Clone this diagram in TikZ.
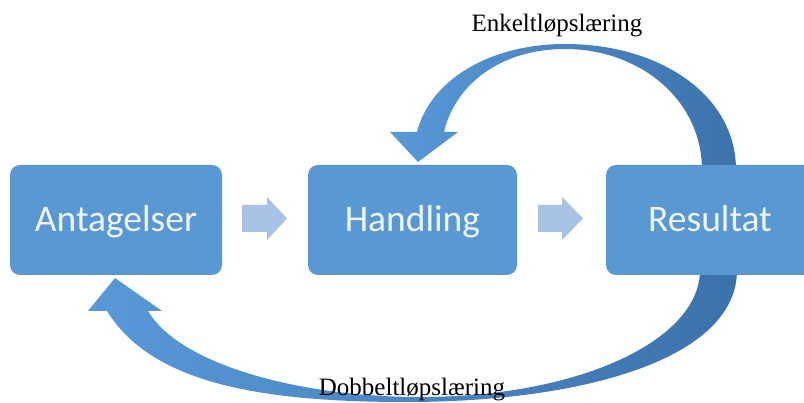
\documentclass[tikz,border=0pt]{standalone}
\usepackage{fontspec}
\setmainfont{Liberation Serif}
\newfontfamily\boxfont{Carlito}
\definecolor{boxblue}{RGB}{89,152,211}
\definecolor{boxtext}{RGB}{238,245,252}
\definecolor{stepblue}{RGB}{168,194,229}
\definecolor{looplight}{RGB}{88,153,216}
\definecolor{loopdark}{RGB}{60,114,172}
\begin{document}
\begin{tikzpicture}[x=1pt,y=-1pt,
  stage/.style={rectangle, rounded corners=10pt, fill=boxblue,
    minimum width=#1, minimum height=110pt, inner sep=0pt,
    text=boxtext, font=\boxfont\fontsize{37.5}{42}\selectfont,
    text height=24pt, text depth=0pt},
  steparrow/.style={fill=stepblue},
  loop/.style={left color=looplight, right color=loopdark},
  looplabel/.style={anchor=base, inner sep=0pt, text=black,
    font=\fontsize{25}{29}\selectfont}]
\useasboundingbox (0,0) rectangle (804,403);
\clip (0,0) rectangle (804,403);
\fill[white] (0,0) rectangle (804,403);

% single-loop arrow: from Resultat back over the top to Handling
\path[loop]
  (417,132) .. controls (430,80) and (490,44) .. (565,44)
  .. controls (660,44) and (736,95) .. (736,170)
  -- (702,170)
  .. controls (702,100) and (640,49) .. (565,49)
  .. controls (500,49) and (455,85) .. (444,132)
  -- (458,132) -- (418,162) -- (390,132) -- cycle;

% double-loop arrow: from Resultat round the bottom to Antagelser
\path[loop]
  (737,270) .. controls (737,360) and (580,402) .. (406,402)
  .. controls (250,402) and (150,380) .. (107,311)
  -- (88,311) -- (115,278) -- (162,311) -- (148,311)
  .. controls (180,365) and (300,397) .. (420,397)
  .. controls (580,397) and (700,340) .. (700,270) -- cycle;

% the three stages
\node[stage=212pt] (ant) at (116,220) {Antagelser};
\node[stage=209pt] (han) at (412.5,220) {Handling};
\node[stage=208pt] (res) at (710,220) {Resultat};

% block arrows between the stages
\fill[steparrow] (242,205) -- (267,205) -- (267,197) -- (287,218.5)
  -- (267,240) -- (267,232) -- (242,232) -- cycle;
\fill[steparrow] (538,205) -- (562,205) -- (562,197) -- (583,218.5)
  -- (562,240) -- (562,232) -- (538,232) -- cycle;

% loop labels
\node[looplabel] (single) at (557,32) {Enkeltløpslæring};
\node[looplabel] (double) at (412,396) {Dobbeltløpslæring};
\end{tikzpicture}
\end{document}
